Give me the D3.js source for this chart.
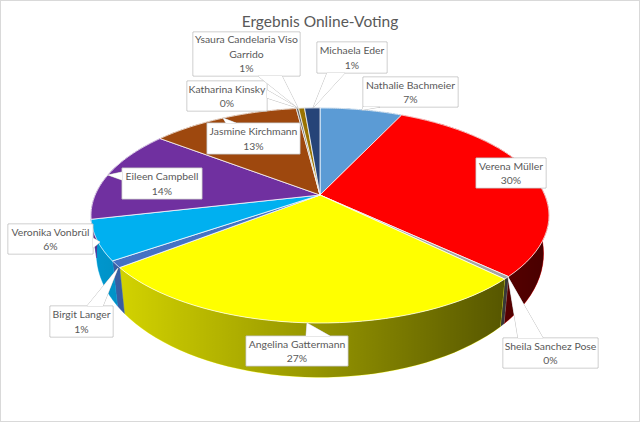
<!DOCTYPE html>
<head>
    <meta charset="utf-8">
    <title>Ergebnis Online-Voting</title>
    <script src="https://d3js.org/d3.v7.min.js"></script>
    <style>
        body { margin: 0; background-color: #fff; overflow: hidden; }
        svg { display: block; }
        text { font-family: Lato, "Open Sans", sans-serif; fill: #595959; }
    </style>
</head>
<body>
    <svg width="640" height="422"></svg>
    <script type="text/javascript">
        const names = ["Nathalie Bachmeier", "Verena Müller", "Sheila Sanchez Pose", "Angelina Gattermann", "Birgit Langer",
            "Veronika Vonbrül", "Eileen Campbell", "Jasmine Kirchmann", "Katharina Kinsky", "Ysaura Candelaria Viso Garrido", "Michaela Eder"]
        const shares = [7, 30, 0.4, 27, 1, 6, 14, 12.6, 0.2, 0.5, 1.3]
        const colors = ["#5b9bd5", "#ff0000", "#a5a5a5", "#ffff00", "#4472c4", "#00b0f0", "#7030a0", "#9e480e", "#636363", "#997300", "#264478"]

        // label boxes: [x0, y0, x1, y1], pointer base a/b and pointer tip
        const boxes = [
            [363, 77, 458, 107], [476, 158, 546, 188], [503, 338, 598, 368], [246, 336, 348, 366], [50, 306, 113, 337],
            [8, 224, 93, 254], [122, 168, 202, 199], [207, 123, 300, 154], [187, 81, 267, 111], [193, 32, 300, 76], [317, 42, 387, 73]
        ]
        const pointers = [
            [[363, 107], [380, 107], [362, 110]], null, [[518, 338], [543, 338], [508, 277]],
            [[306, 336], [330, 336], [307, 323]], [[87, 306], [103, 306], [118, 268]], [[93, 238], [93, 248], [100, 242]],
            [[122, 172], [122, 180], [108, 175]], [[226, 123], [236, 123], [223, 118]], [[267, 90], [267, 98], [298, 108]],
            [[258, 76], [282, 76], [298, 108]], [[327, 73], [345, 73], [313, 108]]
        ]
        const labelLines = [[0], [0], [0], [0], [0], [0], [0], [0], [0], ["Ysaura Candelaria Viso", "Garrido"], [0]]

        const main = d3.select("svg")
        main.append("rect").attr("x", 0.5).attr("y", 0.5).attr("width", 639).attr("height", 421)
            .attr("fill", "#fff").attr("stroke", "#d9d9d9")

        // perspective projection of the unit disc
        const cx = 320, cy = 195, a = 224.8, b = 103.6, k = 0.1907
        const project = (t) => {
            const u = Math.sin(t), v = -Math.cos(t), w = 1 - k * v
            return [cx + a * u / w, cy + b * v / w]
        }
        const lower = ([x, y]) => [cx + (x - cx) * 0.976, cy + (y - cy) * 1.15 + 35]

        const shade = main.append("defs").append("linearGradient").attr("id", "shade")
            .attr("gradientUnits", "userSpaceOnUse").attr("x1", 91).attr("x2", 549).attr("y1", 0).attr("y2", 0)
        shade.append("stop").attr("offset", 0).attr("stop-color", "#000").attr("stop-opacity", 0.14)
        shade.append("stop").attr("offset", 0.5).attr("stop-color", "#000").attr("stop-opacity", 0.42)
        shade.append("stop").attr("offset", 1).attr("stop-color", "#000").attr("stop-opacity", 0.72)

        const arcs = d3.pie().sort(null)(shares)
        const line = d3.line()
        const arcPoints = (d) => d3.range(0, 41).map(i => project(d.startAngle + (d.endAngle - d.startAngle) * i / 40))

        // walls first, so the top face covers the back part of them
        const walls = main.append("g").selectAll("g").data(arcs).enter().append("g")
        const wallPath = (d) => {
            const p = arcPoints(d)
            return line(p.concat(p.map(lower).reverse())) + "Z"
        }
        walls.append("path").attr("d", wallPath).attr("fill", (d, i) => colors[i]).attr("stroke", (d, i) => colors[i]).attr("stroke-width", 0.5)
        walls.append("path").attr("d", wallPath).attr("fill", "url(#shade)")

        main.append("g").selectAll("path").data(arcs).enter().append("path")
            .attr("d", d => line([[cx, cy]].concat(arcPoints(d))) + "Z")
            .attr("fill", (d, i) => colors[i])
            .attr("stroke", "#fff").attr("stroke-width", 0.75).attr("stroke-linejoin", "round")

        main.append("text").attr("x", 320).attr("y", 27).attr("text-anchor", "middle")
            .style("font-size", "15.5px").text("Ergebnis Online-Voting")

        const labels = main.append("g").selectAll("g").data(arcs).enter().append("g")
        labels.append("path")
            .attr("d", (d, i) => {
                const [x0, y0, x1, y1] = boxes[i], p = pointers[i]
                return line([[x0, y0], [x1, y0], [x1, y1], [x0, y1]]) + "Z" + (p ? line(p) + "Z" : "")
            })
            .attr("fill", "#fff").attr("stroke", "#bfbfbf").attr("stroke-width", 1)
        // second pass hides the seam between box and pointer
        labels.append("path")
            .attr("d", (d, i) => {
                const [x0, y0, x1, y1] = boxes[i], p = pointers[i]
                return line([[x0 + 0.5, y0 + 0.5], [x1 - 0.5, y0 + 0.5], [x1 - 0.5, y1 - 0.5], [x0 + 0.5, y1 - 0.5]]) + "Z" + (p ? line(p) + "Z" : "")
            })
            .attr("fill", "#fff").attr("stroke", "none")
        labels.each(function (d, i) {
            const [x0, y0, x1, y1] = boxes[i]
            const rows = (labelLines[i][0] === 0 ? [names[i]] : labelLines[i]).concat([Math.round(shares[i]) + "%"])
            const step = 14.5, top = (y0 + y1) / 2 - (rows.length * step) / 2
            d3.select(this).selectAll("text").data(rows).enter().append("text")
                .attr("x", (x0 + x1) / 2)
                .attr("y", (r, j) => top + j * step + 11)
                .attr("text-anchor", "middle")
                .style("font-size", "10.4px")
                .text(r => r)
        })
    </script>
</body>
